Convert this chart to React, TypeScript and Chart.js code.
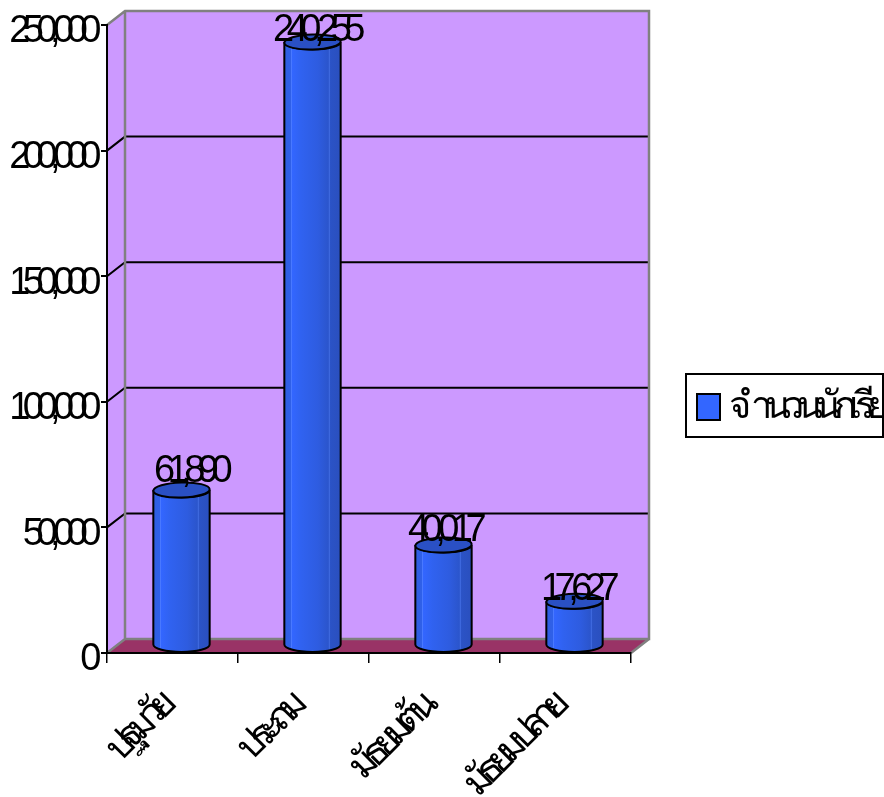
import React, { useEffect, useRef } from "react";
import { Chart, registerables } from "chart.js";

Chart.register(...registerables);

const categories = ["ปฐมวัย", "ประถม", "มัธยมต้น", "มัธยมปลาย"];
const seriesName = "จำนวนนักเรียน";
const students = [61890, 240255, 40017, 17627];
const yTicks = [0, 50000, 100000, 150000, 200000, 250000];

const FONT = '"Liberation Sans", Arial, sans-serif';
const FONT_SIZE = 38;
const SERIES_COLOR = "#3366ff";
const DEPTH_X = 18;
const DEPTH_Y = 14;
const BAR_SHIFT = 9;
const labelDx = [8, 3, 0, 2];
const labelDy = [-16, -8, -11, -9];

const fmt = (v: number) => v.toLocaleString("en-US");

const squeeze = (ctx: any) => {
  ctx.letterSpacing = "-7.5px";
};

const chart3d = {
  id: "chart3d",
  beforeInit(chart: any) {
    squeeze(chart.ctx);
  },
  beforeLayout(chart: any) {
    squeeze(chart.ctx);
  },
  afterLayout(chart: any) {
    const lg = chart.legend;
    if (lg) {
      lg.left = 687;
      lg.right = 883;
      lg.top = 379;
      lg.bottom = 439;
    }
  },
  beforeDraw(chart: any) {
    const { ctx, chartArea: a, scales } = chart;
    squeeze(ctx);
    const y = scales.y;
    ctx.save();
    // floor
    ctx.fillStyle = "#993366";
    ctx.beginPath();
    ctx.moveTo(a.left, a.bottom);
    ctx.lineTo(a.left + DEPTH_X, a.bottom - DEPTH_Y);
    ctx.lineTo(a.right + DEPTH_X, a.bottom - DEPTH_Y);
    ctx.lineTo(a.right, a.bottom);
    ctx.closePath();
    ctx.fill();
    // back wall
    ctx.fillStyle = "#cc99ff";
    ctx.fillRect(a.left + DEPTH_X, a.top - DEPTH_Y, a.right - a.left, a.bottom - a.top);
    // side wall
    ctx.beginPath();
    ctx.moveTo(a.left, a.top);
    ctx.lineTo(a.left + DEPTH_X, a.top - DEPTH_Y);
    ctx.lineTo(a.left + DEPTH_X, a.bottom - DEPTH_Y);
    ctx.lineTo(a.left, a.bottom);
    ctx.closePath();
    ctx.fill();
    // gridlines on the walls
    ctx.strokeStyle = "#000000";
    ctx.lineWidth = 2;
    yTicks.slice(1, -1).forEach((v) => {
      const py = y.getPixelForValue(v);
      ctx.beginPath();
      ctx.moveTo(a.left, py);
      ctx.lineTo(a.left + DEPTH_X, py - DEPTH_Y);
      ctx.lineTo(a.right + DEPTH_X, py - DEPTH_Y);
      ctx.stroke();
    });
    // wall edges
    ctx.strokeStyle = "#808080";
    ctx.lineWidth = 2.5;
    ctx.beginPath();
    ctx.moveTo(a.left, a.top);
    ctx.lineTo(a.left + DEPTH_X, a.top - DEPTH_Y);
    ctx.lineTo(a.right + DEPTH_X, a.top - DEPTH_Y);
    ctx.lineTo(a.right + DEPTH_X, a.bottom - DEPTH_Y);
    ctx.lineTo(a.left + DEPTH_X, a.bottom - DEPTH_Y);
    ctx.lineTo(a.left, a.bottom);
    ctx.moveTo(a.left + DEPTH_X, a.top - DEPTH_Y);
    ctx.lineTo(a.left + DEPTH_X, a.bottom - DEPTH_Y);
    ctx.moveTo(a.right + DEPTH_X, a.bottom - DEPTH_Y);
    ctx.lineTo(a.right, a.bottom);
    ctx.stroke();
    // legend frame and swatch
    ctx.lineWidth = 2;
    ctx.fillStyle = "#ffffff";
    ctx.fillRect(686, 374, 197, 63);
    ctx.strokeStyle = "#000000";
    ctx.strokeRect(686, 374, 197, 63);
    ctx.fillStyle = SERIES_COLOR;
    ctx.fillRect(697, 394, 23, 26);
    ctx.strokeRect(697, 394, 23, 26);
    ctx.restore();
  },
  beforeDatasetDraw(chart: any, args: any) {
    const { ctx } = chart;
    const meta = args.meta;
    meta.data.forEach((bar: any) => {
      const { x, y, base, width } = bar.getProps(["x", "y", "base", "width"], true);
      const cx = x + BAR_SHIFT;
      const rx = width / 2;
      const ry = 7.5;
      const topY = y - ry;
      const botY = base - ry;
      const g = ctx.createLinearGradient(cx - rx, 0, cx + rx, 0);
      g.addColorStop(0, "#2f5ee0");
      g.addColorStop(0.11, "#2f60e8");
      g.addColorStop(0.125, "#4d7cff");
      g.addColorStop(0.14, "#3366ff");
      g.addColorStop(0.3, "#3062f0");
      g.addColorStop(0.6, "#2e5ce0");
      g.addColorStop(0.78, "#2b55cc");
      g.addColorStop(0.8, "#3f6ae0");
      g.addColorStop(0.82, "#2b53c6");
      g.addColorStop(1, "#2a4fbe");
      ctx.save();
      ctx.beginPath();
      ctx.moveTo(cx - rx, topY);
      ctx.lineTo(cx - rx, botY);
      ctx.ellipse(cx, botY, rx, ry, 0, Math.PI, 0, true);
      ctx.lineTo(cx + rx, topY);
      ctx.ellipse(cx, topY, rx, ry, 0, 0, Math.PI, false);
      ctx.closePath();
      ctx.fillStyle = g;
      ctx.fill();
      ctx.strokeStyle = "#000000";
      ctx.lineWidth = 2;
      ctx.stroke();
      ctx.beginPath();
      ctx.ellipse(cx, topY, rx, ry, -0.03, 0, Math.PI * 2);
      ctx.fillStyle = "#2a50c4";
      ctx.fill();
      ctx.stroke();
      ctx.restore();
    });
    return false;
  },
  afterDatasetsDraw(chart: any) {
    const { ctx } = chart;
    const meta = chart.getDatasetMeta(0);
    ctx.save();
    ctx.font = `${FONT_SIZE}px ${FONT}`;
    ctx.fillStyle = "#000000";
    ctx.textAlign = "center";
    ctx.textBaseline = "alphabetic";
    meta.data.forEach((bar: any, i: number) => {
      const { x, y } = bar.getProps(["x", "y"], true);
      ctx.fillText(fmt(students[i]), x + BAR_SHIFT + labelDx[i], y + labelDy[i]);
    });
    ctx.restore();
  },
};

export default function App() {
  const ref = useRef<HTMLCanvasElement>(null);
  useEffect(() => {
    const chart = new Chart(ref.current as HTMLCanvasElement, {
      type: "bar",
      data: {
        labels: categories,
        datasets: [
          {
            label: seriesName,
            data: students,
            backgroundColor: SERIES_COLOR,
            borderColor: "#000000",
            borderWidth: 2,
            barPercentage: 0.43,
            categoryPercentage: 1,
          },
        ],
      },
      plugins: [chart3d],
      options: {
        animation: false,
        responsive: false,
        layout: { padding: { top: 25, right: 253, left: 0, bottom: 0 } },
        plugins: {
          tooltip: { enabled: false },
          title: { display: false },
          legend: {
            display: true,
            position: "chartArea",
            align: "start",
            labels: {
              boxWidth: 13,
              boxHeight: 26,
              padding: 10,
              color: "#000000",
              font: { family: FONT, size: FONT_SIZE },
              generateLabels: (c: any) => [
                {
                  text: c.data.datasets[0].label,
                  fillStyle: "rgba(0,0,0,0)",
                  strokeStyle: "rgba(0,0,0,0)",
                  lineWidth: 0,
                  datasetIndex: 0,
                },
              ],
            },
          },
        },
        scales: {
          x: {
            afterFit: (s: any) => {
              s.height = 144;
              s.paddingLeft = 0;
              s.paddingRight = 0;
            },
            border: { color: "#000000", width: 2 },
            grid: { drawOnChartArea: false, tickLength: 10, color: "#000000", lineWidth: 1.5, offset: true },
            ticks: {
              minRotation: 45,
              maxRotation: 45,
              padding: 23,
              labelOffset: -7,
              color: "#000000",
              font: { family: FONT, size: FONT_SIZE },
            },
          },
          y: {
            min: 0,
            max: 250000,
            afterFit: (s: any) => {
              s.width = 107;
              s.paddingTop = 0;
              s.paddingBottom = 0;
            },
            border: { color: "#000000", width: 2 },
            grid: { drawOnChartArea: false, tickLength: 6, color: "#000000", lineWidth: 2 },
            ticks: {
              stepSize: 50000,
              padding: 7,
              labelOffset: 7,
              color: "#000000",
              font: { family: FONT, size: FONT_SIZE },
              callback: (v: any) => fmt(Number(v)),
            },
          },
        },
      } as any,
    });
    return () => chart.destroy();
  }, []);
  return (
    <canvas
      ref={ref}
      width={884}
      height={797}
      style={{ position: "absolute", left: 0, top: 0, display: "block" }}
    />
  );
}
